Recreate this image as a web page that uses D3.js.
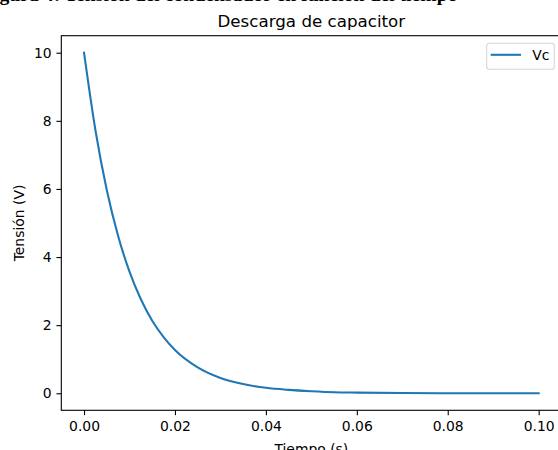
<!doctype html>
<html lang="es">
  <head>
    <meta charset="UTF-8" />
    <title>Descarga de capacitor</title>
    <style>
      body { margin: 0; background: #fff; }
      svg { display: block; }
      text { font-family: "DejaVu Sans", sans-serif; }
    </style>
  </head>
  <body>
    <svg id="chart"></svg>
    <script src="https://d3js.org/d3.v7.min.js"></script>
    <script>
      // values
      const tiempo = [0, 0.0025, 0.005, 0.0075, 0.01, 0.0125, 0.015, 0.0175, 0.02,
        0.025, 0.03, 0.035, 0.04, 0.045, 0.05, 0.055, 0.06, 0.07, 0.08, 0.09, 0.1];
      const tension = [10, 7.73, 5.97, 4.62, 3.57, 2.76, 2.13, 1.65, 1.27,
        0.76, 0.45, 0.27, 0.16, 0.1, 0.06, 0.03, 0.02, 0.01, 0.0, 0.0, 0.0];
      const xTicks = [0, 0.02, 0.04, 0.06, 0.08, 0.1];
      const yTicks = [0, 2, 4, 6, 8, 10];
      const seriesName = "Vc";

      const width = 558, height = 450;
      const margin = { left: 61.3, right: -3.4, top: 35.7, bottom: 39.7 };
      const fs = 13.9;

      const svg = d3.select("#chart").attr("width", width).attr("height", height);

      const x = d3.scaleLinear().domain([-0.005, 0.105])
        .range([margin.left, width - margin.right]);
      const y = d3.scaleLinear().domain([-0.5, 10.5])
        .range([height - margin.bottom, margin.top]);

      // caption of the document, mostly cropped off at the top
      svg.append("text")
        .attr("x", -18).attr("y", 1)
        .style("font-family", "'Liberation Serif', serif")
        .style("font-weight", "bold")
        .style("font-size", "19.7px")
        .text("Figura 4: Tensión del condensador en función del tiempo");

      const line = d3.line()
        .x((d, i) => x(tiempo[i]))
        .y((d) => y(d))
        .curve(d3.curveMonotoneX);

      svg.append("path")
        .datum(tension)
        .attr("fill", "none")
        .attr("stroke", "#1f77b4")
        .attr("stroke-width", 2.08)
        .attr("stroke-linecap", "square")
        .attr("d", line);

      // axes
      const gx = svg.append("g")
        .attr("transform", `translate(0,${y.range()[0]})`)
        .call(d3.axisBottom(x).tickValues(xTicks).tickFormat(d3.format(".2f"))
          .tickSize(4.86).tickPadding(4.86).tickSizeOuter(0));
      const gy = svg.append("g")
        .attr("transform", `translate(${x.range()[0]},0)`)
        .call(d3.axisLeft(y).tickValues(yTicks).tickFormat(d3.format("d"))
          .tickSize(4.86).tickPadding(4.86).tickSizeOuter(0));
      [gx, gy].forEach((g) => {
        g.select(".domain").remove();
        g.selectAll(".tick line").attr("stroke", "#000").attr("stroke-width", 1.1);
        g.selectAll(".tick text")
          .attr("fill", "#000")
          .style("font-family", "'DejaVu Sans', sans-serif")
          .style("font-size", fs + "px");
      });
      gx.selectAll(".tick text").attr("dy", "0.78em");

      // frame
      svg.append("rect")
        .attr("x", x.range()[0]).attr("y", y.range()[1])
        .attr("width", x.range()[1] - x.range()[0])
        .attr("height", y.range()[0] - y.range()[1])
        .attr("fill", "none").attr("stroke", "#000").attr("stroke-width", 1.1);

      // title and axis labels
      const cx = (x.range()[0] + x.range()[1]) / 2;
      svg.append("text")
        .attr("x", cx).attr("y", y.range()[1] - 8.3)
        .attr("text-anchor", "middle")
        .style("font-size", "16.7px")
        .text("Descarga de capacitor");

      svg.append("text")
        .attr("x", cx).attr("y", 454)
        .attr("text-anchor", "middle")
        .style("font-size", fs + "px")
        .text("Tiempo (s)");

      svg.append("text")
        .attr("transform", `translate(24,${(y.range()[0] + y.range()[1]) / 2}) rotate(-90)`)
        .attr("text-anchor", "middle")
        .style("font-size", fs + "px")
        .text("Tensión (V)");

      // legend
      const lg = svg.append("g");
      const lx = 486.7, ly = 43.3, lw = 67.6, lh = 26;
      lg.append("rect")
        .attr("x", lx).attr("y", ly).attr("width", lw).attr("height", lh)
        .attr("rx", 2.8)
        .attr("fill", "#fff").attr("fill-opacity", 0.8)
        .attr("stroke", "#d6d6d6").attr("stroke-width", 1.1);
      lg.append("line")
        .attr("x1", lx + 4).attr("x2", lx + 34.3)
        .attr("y1", ly + 11.5).attr("y2", ly + 11.5)
        .attr("stroke", "#1f77b4").attr("stroke-width", 2.08);
      lg.append("text")
        .attr("x", lx + 45.6).attr("y", ly + 16.5)
        .style("font-size", fs + "px")
        .text(seriesName);
    </script>
  </body>
</html>
